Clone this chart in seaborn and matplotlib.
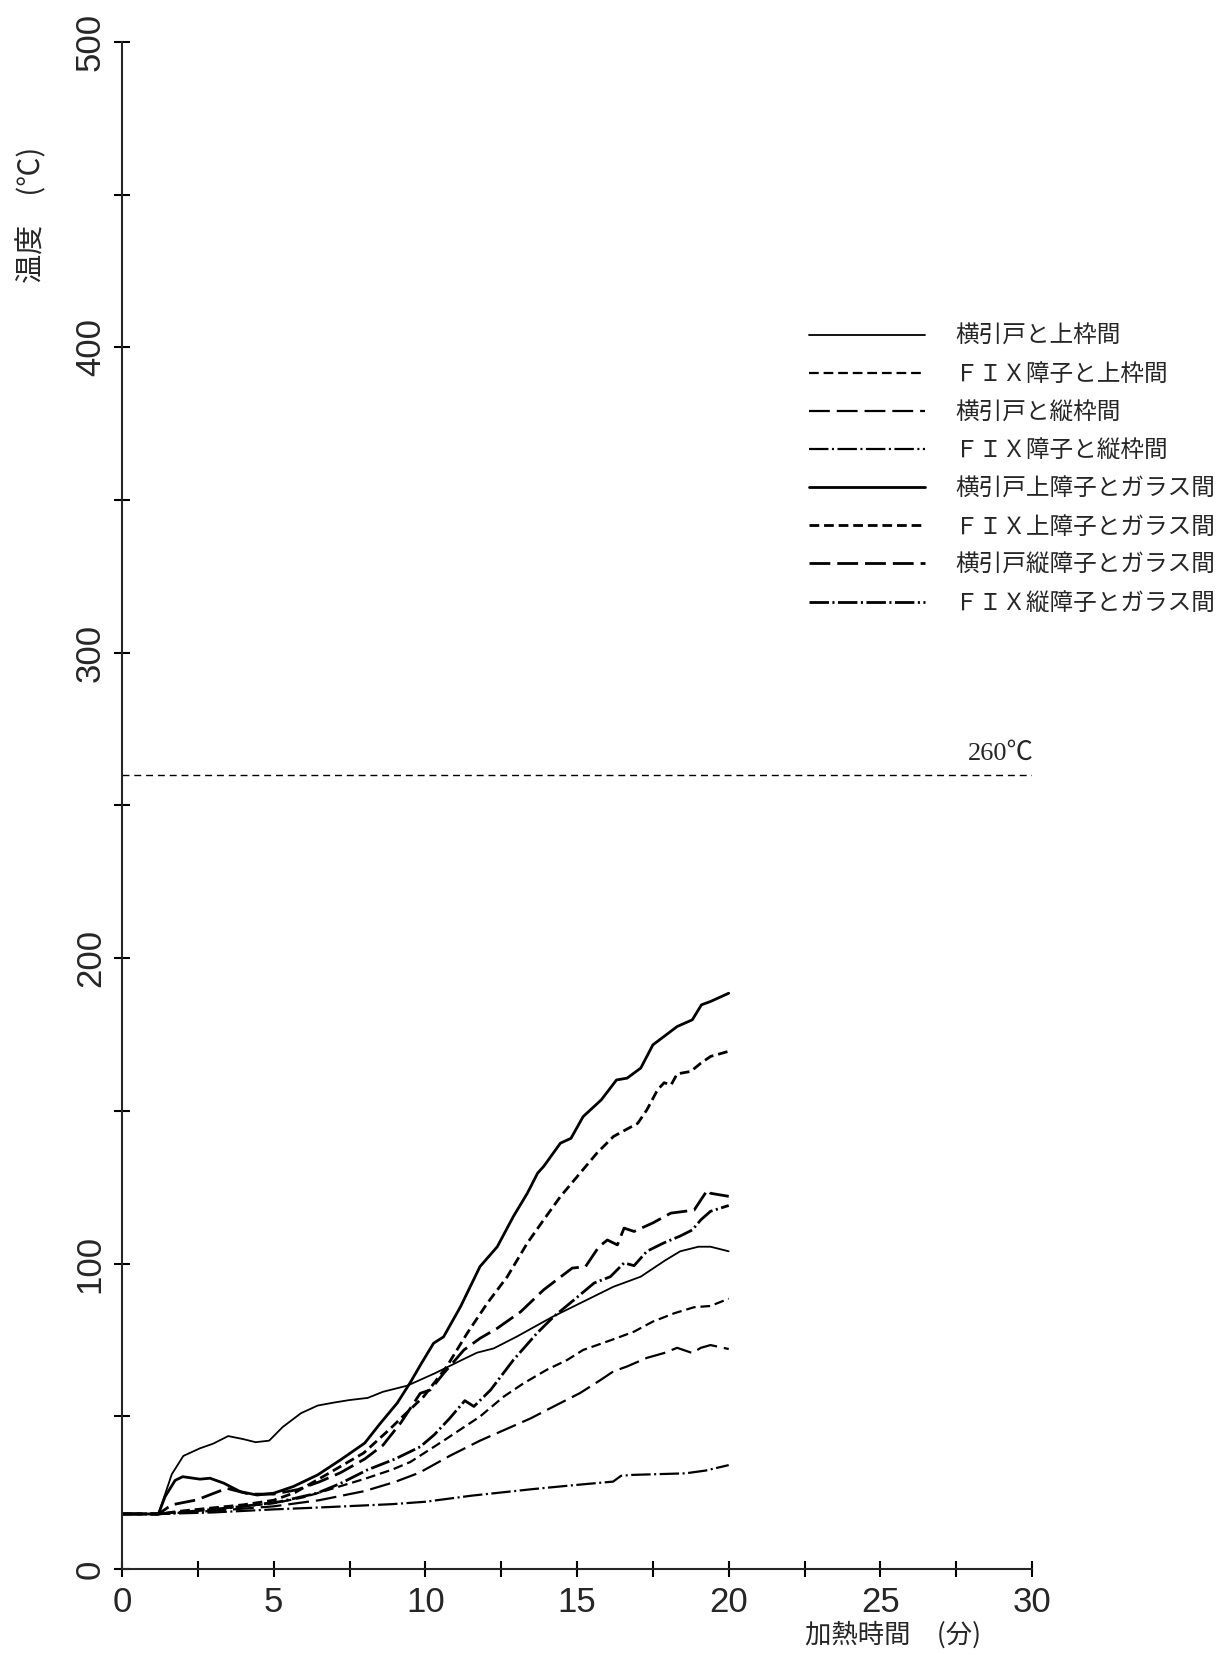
import numpy as np
import pandas as pd
import matplotlib
matplotlib.use('Agg')
import matplotlib.pyplot as plt
from matplotlib.ticker import MultipleLocator
import seaborn as sns

# values: time (min) / temperature (deg C)
t_yoko_ue = [0, 1.2, 1.64, 2.02, 2.57, 3.0, 3.5, 4.0, 4.4, 4.85, 5.3, 5.9, 6.45, 7.0, 7.5, 8.1, 8.6,
             9.4, 10.3, 11.2, 11.7, 12.25, 13.0, 13.6, 14.2, 15.1, 16.2, 17.1, 17.9, 18.4, 19.0, 19.4, 20.0]
T_yoko_ue = [18, 18, 31, 37, 39.5, 41, 43.5, 42.5, 41.5, 42, 46.5, 51, 53.5, 54.5, 55.3, 56, 58,
             60, 64, 68.4, 70.8, 72.2, 76, 79.3, 82.6, 87, 92.4, 95.7, 101, 104, 105.5, 105.5, 104]

t_fix_ue = [0, 1.2, 2.5, 4, 5, 6, 7, 8, 8.9, 9.5, 10.6, 11.8, 12.58, 13.24, 14.0, 14.67, 15.2, 15.66,
            16.2, 16.88, 17.5, 18.2, 18.86, 19.4, 20]
T_fix_ue = [18, 18, 19, 20.5, 21.5, 23.5, 26.5, 29.5, 32.5, 35, 42, 49.9, 56.4, 60.8, 65.2, 68.4, 71.7, 73.3,
            75.2, 77.7, 81, 83.7, 85.7, 86.1, 88.5]

t_yoko_tate = [0, 1.2, 3, 5, 6.5, 8, 9, 9.8, 10.8, 11.8, 12.6, 13.47, 14.23, 15.1, 15.78, 16.2, 16.65,
               17.3, 17.87, 18.3, 18.8, 19.08, 19.4, 20]
T_yoko_tate = [18, 18, 19, 20.5, 22.5, 25.5, 28.5, 31.5, 37, 42, 45.5, 49.3, 53.2, 57.6, 61.9, 64.7, 66.3,
               69.1, 70.7, 72.4, 70.7, 72.4, 73.3, 72]

t_fix_tate = [0, 1.2, 3, 5, 6.23, 8.88, 10, 11.53, 13.5, 14.86, 16.19, 16.45, 16.85, 18.57, 19.23, 20]
T_fix_tate = [18, 18, 18.5, 19.5, 20, 21.2, 22, 24, 26.1, 27.4, 28.6, 30.5, 30.8, 31.3, 32.2, 34]

t_yoko_ue_glass = [0, 1.2, 1.42, 1.75, 2.0, 2.57, 2.9, 3.35, 3.9, 4.45, 5.0, 5.65, 6.45, 7.2, 8.0, 8.5,
                   9.07, 9.5, 9.85, 10.27, 10.6, 11.16, 11.8, 12.37, 12.9, 13.36, 13.7, 13.9, 14.45, 14.8,
                   15.2, 15.8, 16.3, 16.65, 17.1, 17.5, 18.3, 18.8, 19.1, 19.4, 20.0]
T_yoko_ue_glass = [18, 18, 23.7, 29, 30.2, 29.4, 29.7, 28.1, 25.3, 24.2, 24.8, 27, 30.8, 35.7, 41.2, 47.5,
                   54.3, 61, 67, 73.9, 76, 85.9, 99, 105.5, 115.4, 123, 129.6, 131.8, 139.4, 141,
                   148.1, 153.6, 160.1, 160.7, 164, 171.6, 177.6, 179.8, 184.7, 185.8, 188.5]

t_fix_ue_glass = [0, 1.2, 2, 3, 4, 5, 5.7, 6.76, 7.97, 8.85, 9.2, 9.94, 10.7, 11.38, 12.04, 12.7, 13.36,
                  13.9, 14.45, 15.1, 15.65, 16.2, 16.55, 17.0, 17.3, 17.65, 17.87, 18.1, 18.3, 18.75,
                  19.08, 19.4, 20]
T_fix_ue_glass = [18, 18, 19, 20, 21, 22.5, 25, 31, 38, 46, 49.4, 56.4, 66.2, 77.2, 87, 95.7, 106.7,
                  114.3, 121.9, 129.6, 136.1, 141.6, 143.5, 145.9, 150.3, 156.8, 159.2, 158.5, 162.1, 162.9,
                  165.6, 167.8, 169.5]

t_yoko_tate_glass = [0, 1.2, 1.64, 2.46, 3.45, 4.2, 5.0, 5.8, 6.5, 7.2, 8.0, 8.6, 9.2, 9.83, 10.16, 10.6,
                     11.27, 11.8, 12.37, 13.14, 13.9, 14.84, 15.28, 15.72, 16.0, 16.33, 16.55, 16.88,
                     17.5, 18.09, 18.86, 19.08, 19.3, 19.4, 20]
T_yoko_tate_glass = [18, 18, 21, 22.6, 26.4, 24.5, 24.5, 26, 28.5, 31.5, 36, 40.5, 48, 57.5, 58.6, 64,
                     71.7, 75.5, 78.8, 84.2, 91.4, 98.5, 99, 105.5, 107.7, 106.1, 111.6, 110.5,
                     113.3, 116.5, 117.5, 120.8, 124.1, 123, 122]

t_fix_tate_glass = [0, 1.2, 2.5, 4, 5.2, 6.43, 7.2, 8.08, 9.0, 9.83, 10.3, 10.8, 11.3, 11.6, 12.15, 12.9,
                    13.68, 14.23, 14.9, 15.56, 16.1, 16.55, 16.88, 17.3, 17.87, 18.4, 18.8, 19.08, 19.4, 20]
T_fix_tate_glass = [18, 18, 19, 20.5, 22, 24.8, 28, 32.4, 36, 40, 44, 49.3, 55.1, 53.2, 58.6, 68.4,
                    77.2, 82.6, 88.1, 93.6, 95.7, 100.2, 99.3, 104, 106.8, 109, 111, 114.3, 117.1, 119]

labels = ['横引戸と上枠間', 'ＦＩＸ障子と上枠間', '横引戸と縦枠間', 'ＦＩＸ障子と縦枠間',
          '横引戸上障子とガラス間', 'ＦＩＸ上障子とガラス間', '横引戸縦障子とガラス間', 'ＦＩＸ縦障子とガラス間']
limit_temp = 260

series = [(t_yoko_ue, T_yoko_ue), (t_fix_ue, T_fix_ue), (t_yoko_tate, T_yoko_tate),
          (t_fix_tate, T_fix_tate), (t_yoko_ue_glass, T_yoko_ue_glass), (t_fix_ue_glass, T_fix_ue_glass),
          (t_yoko_tate_glass, T_yoko_tate_glass), (t_fix_tate_glass, T_fix_tate_glass)]

short_dash = (0, (7, 3.5))
long_dash = (0, (15, 5))
dash_dot = (0, (14, 2.5, 1.5, 2.5))
styles = ['-', short_dash, long_dash, dash_dot, '-', short_dash, long_dash, dash_dot]
widths = [1.3, 1.6, 1.6, 1.6, 2.0, 2.0, 2.0, 2.0]

sns.set_style('ticks')
plt.rcParams['font.family'] = ['Noto Sans CJK JP', 'DejaVu Sans']
plt.rcParams['lines.scale_dashes'] = False

fig = plt.figure(figsize=(12.24, 16.55), dpi=100)
ax = fig.add_axes([0.0997, 0.052, 0.7435, 0.9227])

for (t, T), lab, ls, lw in zip(series, labels, styles, widths):
    df = pd.DataFrame({'time': t, 'temp': T})
    sns.lineplot(data=df, x='time', y='temp', ax=ax, color='black', linestyle=ls, lw=lw,
                 label=lab, estimator=None, sort=False)

ax.axhline(limit_temp, color='black', lw=1.0, linestyle=(0, (5, 3.5)))
ax.text(27.9, limit_temp + 7, '260℃', fontsize=19, va='center', ha='left',
        family=['Liberation Serif', 'Noto Sans CJK JP'])

ax.set_xlim(0, 30)
ax.set_ylim(0, 500)
ax.xaxis.set_major_locator(MultipleLocator(5))
ax.xaxis.set_minor_locator(MultipleLocator(2.5))
ax.yaxis.set_major_locator(MultipleLocator(100))
ax.yaxis.set_minor_locator(MultipleLocator(50))
ax.spines[['top', 'right']].set_visible(False)
for s in ['left', 'bottom']:
    ax.spines[s].set_linewidth(1.5)
ax.tick_params(which='both', direction='inout', length=12, width=1.5, color='black')
ax.tick_params(axis='x', pad=6)
ax.tick_params(axis='y', pad=5)
ax.set_xlabel('')
ax.set_ylabel('')
for lab in ax.get_xticklabels() + ax.get_yticklabels():
    lab.set_family(['Liberation Sans', 'DejaVu Sans'])
    lab.set_fontsize(25)
for lab in ax.get_yticklabels():
    lab.set_rotation(90)
    lab.set_va('center')

fig.text(32 / 1224, 1 - 215 / 1655, '温度　(℃)', rotation=90, fontsize=21, ha='center', va='center')
fig.text(805 / 1224, 1 - 1635 / 1655, '加熱時間　(分)', fontsize=19, ha='left', va='center')

ax.legend(loc='upper left', bbox_to_anchor=(809 / 1224, 1 - 325 / 1655), bbox_transform=fig.transFigure,
          frameon=False, fontsize=17, handlelength=4.9, handletextpad=1.3, labelspacing=0.64,
          borderpad=0, borderaxespad=0)

fig.savefig('out.png', dpi=100, facecolor='white')
